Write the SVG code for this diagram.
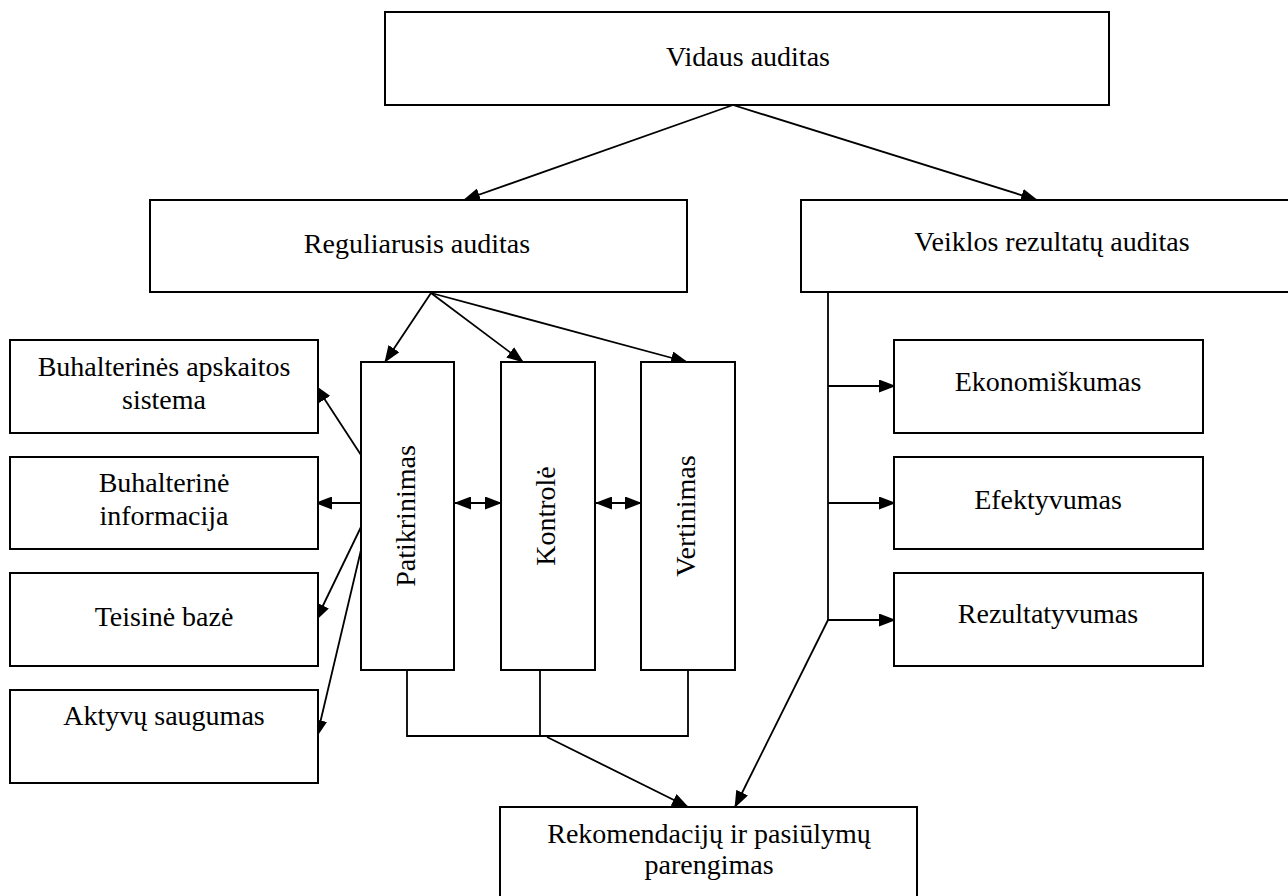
<svg xmlns="http://www.w3.org/2000/svg" width="1288" height="896" viewBox="0 0 1288 896">
<defs>
<marker id="ah" markerUnits="userSpaceOnUse" markerWidth="17" markerHeight="13" refX="16" refY="6.5" orient="auto-start-reverse" viewBox="0 0 17 13">
<path d="M0,0 L17,6.5 L0,13 z" fill="#000"/>
</marker>
<style>
.box{fill:#fff;stroke:#000;stroke-width:2}
.t{font-family:"Liberation Serif","Times New Roman",serif;font-size:28px;fill:#000;text-anchor:middle}
.c{fill:none;stroke:#000;stroke-width:1.8}
.a{marker-end:url(#ah)}
.d{marker-start:url(#ah);marker-end:url(#ah)}
</style>
</defs>
<rect width="1288" height="896" fill="#fff"/>

<g id="connectors">
<line class="c a" x1="733" y1="105" x2="464" y2="200"/>
<line class="c a" x1="733" y1="105" x2="1037" y2="200"/>
<line class="c a" x1="431" y1="293" x2="385" y2="362"/>
<line class="c a" x1="431" y1="293" x2="523" y2="362"/>
<line class="c a" x1="431" y1="293" x2="687" y2="362"/>
<line class="c a" x1="361" y1="455" x2="316" y2="386"/>
<line class="c a" x1="361" y1="503" x2="316" y2="503"/>
<line class="c a" x1="361" y1="527" x2="316" y2="620"/>
<line class="c a" x1="361" y1="550" x2="317" y2="736"/>
<line class="c d" x1="455" y1="503" x2="501" y2="503"/>
<line class="c d" x1="596" y1="503" x2="641" y2="503"/>
<polyline class="c" points="407,668 407,736 688,736 688,668"/>
<line class="c" x1="540" y1="668" x2="540" y2="736"/>
<line class="c a" x1="547" y1="737" x2="688" y2="807"/>
<line class="c" x1="828" y1="292" x2="828" y2="620"/>
<line class="c a" x1="828" y1="386" x2="895" y2="386"/>
<line class="c a" x1="828" y1="503" x2="895" y2="503"/>
<line class="c a" x1="828" y1="620" x2="895" y2="620"/>
<line class="c a" x1="828" y1="620" x2="735" y2="807"/>
</g>

<g id="vidaus">
<rect class="box" x="385" y="12" width="724" height="93"/>
<text class="t" x="748" y="66">Vidaus auditas</text>
</g>
<g id="reguliarusis">
<rect class="box" x="150" y="200" width="537" height="92"/>
<text class="t" x="417" y="253">Reguliarusis auditas</text>
</g>
<g id="veiklos">
<rect class="box" x="801" y="200" width="502" height="92"/>
<text class="t" x="1052" y="251">Veiklos rezultatų auditas</text>
</g>

<g id="buhalterines-apskaitos">
<rect class="box" x="10" y="340" width="308" height="93"/>
<text class="t" x="164" y="376">Buhalterinės apskaitos</text>
<text class="t" x="164" y="409">sistema</text>
</g>
<g id="buhalterine-informacija">
<rect class="box" x="10" y="457" width="308" height="92"/>
<text class="t" x="164" y="492">Buhalterinė</text>
<text class="t" x="164" y="525">informacija</text>
</g>
<g id="teisine-baze">
<rect class="box" x="10" y="573" width="308" height="93"/>
<text class="t" x="164" y="626">Teisinė bazė</text>
</g>
<g id="aktyvu-saugumas">
<rect class="box" x="10" y="690" width="308" height="93"/>
<text class="t" x="164" y="725">Aktyvų saugumas</text>
</g>

<g id="patikrinimas">
<rect class="box" x="361" y="362" width="93" height="308"/>
<text class="t" transform="translate(415,516) rotate(-90)">Patikrinimas</text>
</g>
<g id="kontrole">
<rect class="box" x="501" y="362" width="94" height="308"/>
<text class="t" transform="translate(555,516) rotate(-90)">Kontrolė</text>
</g>
<g id="vertinimas">
<rect class="box" x="641" y="362" width="94" height="308"/>
<text class="t" transform="translate(695,516) rotate(-90)">Vertinimas</text>
</g>

<g id="ekonomiskumas">
<rect class="box" x="894" y="340" width="309" height="93"/>
<text class="t" x="1048" y="391">Ekonomiškumas</text>
</g>
<g id="efektyvumas">
<rect class="box" x="894" y="457" width="309" height="92"/>
<text class="t" x="1048" y="509">Efektyvumas</text>
</g>
<g id="rezultatyvumas">
<rect class="box" x="894" y="573" width="309" height="93"/>
<text class="t" x="1048" y="623">Rezultatyvumas</text>
</g>

<g id="rekomendaciju">
<rect class="box" x="500" y="807" width="417" height="100"/>
<text class="t" x="709" y="843">Rekomendacijų ir pasiūlymų</text>
<text class="t" x="709" y="874">parengimas</text>
</g>
</svg>
